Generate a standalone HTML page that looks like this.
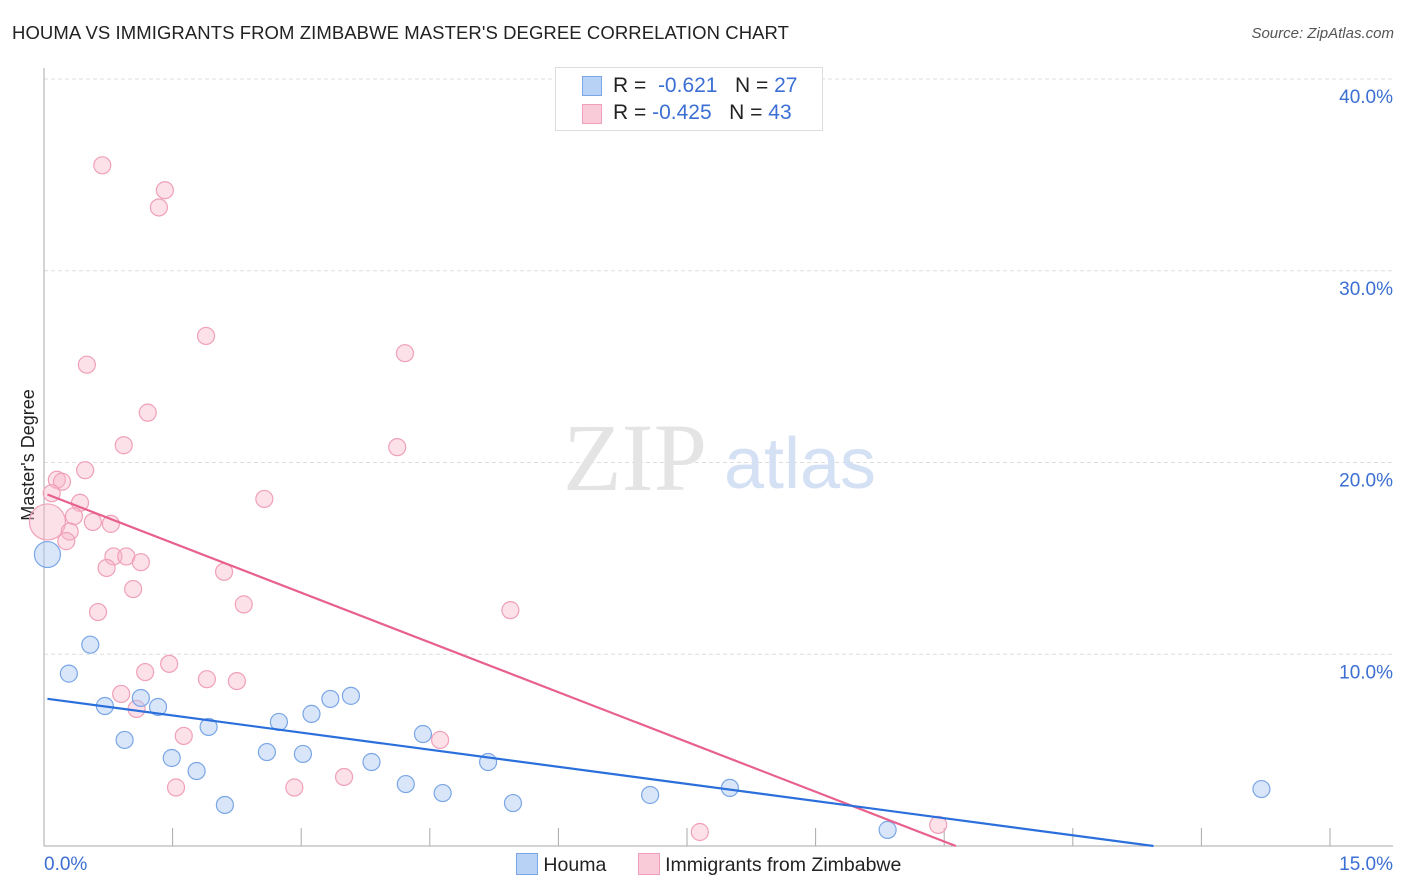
<!DOCTYPE html>
<html><head><meta charset="utf-8">
<style>
body{margin:0;background:#fff;font-family:"Liberation Sans",sans-serif;}
#wrap{position:relative;width:1406px;height:892px;overflow:hidden;}
.t{position:absolute;white-space:nowrap;}
</style></head>
<body>
<div id="wrap">
<div class="t" style="left:12px;top:22px;font-size:18.5px;color:#222;letter-spacing:0.08px">HOUMA VS IMMIGRANTS FROM ZIMBABWE MASTER'S DEGREE CORRELATION CHART</div>
<div class="t" style="right:12px;top:25px;font-size:15px;color:#555;font-style:italic">Source: ZipAtlas.com</div>
<svg id="svg" width="1406" height="892" style="position:absolute;left:0;top:0"></svg>
</div>
<script>
const blueX=[0.04,0.54,0.29,0.71,1.13,1.33,0.94,1.49,1.78,1.92,2.11,2.6,2.74,3.02,3.12,3.34,3.58,3.82,4.22,4.42,4.65,5.18,5.47,7.07,8.0,9.84,14.2];
const blueY=[15.2,10.5,8.99,7.3,7.72,7.25,5.53,4.59,3.91,6.21,2.14,4.9,6.47,4.8,6.89,7.67,7.83,4.38,3.23,5.84,2.76,4.38,2.24,2.66,3.03,0.84,2.97];
const pinkX=[0.04,0.68,1.41,1.34,1.89,0.5,4.21,1.21,0.93,4.12,0.48,0.15,0.21,0.09,0.42,2.57,0.35,0.57,0.78,0.3,0.26,0.81,0.96,1.13,0.73,2.1,1.04,2.33,0.63,5.44,1.46,1.18,1.9,2.25,0.9,1.08,1.63,4.62,3.5,1.54,2.92,7.65,10.43];
const pinkY=[16.9,35.5,34.2,33.3,26.6,25.1,25.7,22.6,20.9,20.8,19.6,19.1,19.0,18.4,17.9,18.1,17.2,16.9,16.8,16.4,15.9,15.1,15.1,14.8,14.5,14.3,13.4,12.6,12.2,12.3,9.5,9.07,8.7,8.6,7.93,7.15,5.74,5.53,3.6,3.05,3.05,0.73,1.1];
const blueR=[13];const pinkR=[18];
const trendBlue=[7.7,-0.595];const trendPink=[18.4,-1.73];
const yTicks=[10,20,30,40];const yLabels=["10.0%","20.0%","30.0%","40.0%"];
const X0=44,X1=1330,Y0=846,Y40=79;
const sx=v=>X0+(v/15)*(X1-X0);
const sy=v=>Y0-(v/40)*(Y0-Y40);
const svg=document.getElementById('svg');const NS='http://www.w3.org/2000/svg';
function mk(t,a){const e=document.createElementNS(NS,t);for(const k in a)e.setAttribute(k,a[k]);svg.appendChild(e);return e;}
yTicks.forEach((v,i)=>{
 const l=mk('line',{x1:X0,x2:1393,y1:sy(v),y2:sy(v),stroke:'#ddd','stroke-dasharray':'4,3'});
 
 
 const t=mk('text',{x:1393,y:sy(v)+24,'text-anchor':'end','font-size':19,fill:'#3b6fd4','font-family':'Liberation Sans'});
 t.textContent=yLabels[i];
 
 
});
let ax=mk('line',{x1:X0,x2:X0,y1:68,y2:Y0,stroke:'#aaa'});


let bx=mk('line',{x1:X0,x2:1393,y1:Y0,y2:Y0,stroke:'#aaa'});


for(let i=0;i<=10;i++){const tk=mk('line',{x1:sx(i*1.5),x2:sx(i*1.5),y1:Y0,y2:Y0-18,stroke:'#aaa'});
 
 }
[['0.0%',44,'start'],['15.0%',1393,'end']].forEach(a=>{const t=mk('text',{x:a[1],y:870,'text-anchor':a[2],'font-size':19,fill:'#3b6fd4','font-family':'Liberation Sans'});t.textContent=a[0];
 
 });
let yt=mk('text',{x:0,y:0,transform:'translate(34,455) rotate(-90)','text-anchor':'middle','font-size':18,fill:'#222','font-family':'Liberation Sans'});yt.textContent="Master's Degree";


let w1=mk('text',{x:635,y:490,'text-anchor':'middle','font-size':96,fill:'#e4e4e4','font-family':'Liberation Serif'});w1.textContent='ZIP';


let w2=mk('text',{x:800,y:488,'text-anchor':'middle','font-size':72,fill:'#d4e0f4','font-family':'Liberation Sans'});w2.textContent='atlas';


function pts(X,Y,big,fill,stroke,name){X.forEach((x,i)=>{const c=mk('circle',{cx:sx(x),cy:sy(Y[i]),r:i===0?big[0]:8.5,fill:fill,stroke:stroke,'stroke-width':1.2});
 
 });}
pts(pinkX,pinkY,pinkR,'rgba(248,180,200,0.4)','#f0a0b8','pink-point');
pts(blueX,blueY,blueR,'rgba(170,200,245,0.45)','#7aa6e6','blue-point');
function trend(tr,col,name){const xe=Math.min(15,-tr[0]/tr[1]);const l=mk('line',{x1:sx(0.04),y1:sy(tr[0]+tr[1]*0.04),x2:sx(xe),y2:sy(tr[0]+tr[1]*xe),stroke:col,'stroke-width':2.2});
 
 }
trend(trendPink,'#e8608c','pink-trend-line');
trend(trendBlue,'#2a6fdb','blue-trend-line');
</script>
<div class="t" style="left:555px;top:67px;width:266px;height:62px;border:1px solid #ddd;background:#fff;font-size:21px;color:#222">
 <div style="position:absolute;left:26px;top:8px;width:18px;height:18px;background:#b8d2f6;border:1px solid #7aa6e6"></div>
 <div class="t" style="left:57px;top:6px">R = &nbsp;<span style="color:#3b6fd4">-0.621</span> &nbsp;&nbsp;N = <span style="color:#3b6fd4">27</span></div>
 <div style="position:absolute;left:26px;top:36px;width:18px;height:18px;background:#f9cad8;border:1px solid #f0a0b8"></div>
 <div class="t" style="left:57px;top:33px">R = <span style="color:#3b6fd4">-0.425</span> &nbsp;&nbsp;N = <span style="color:#3b6fd4">43</span></div>
</div>
<div class="t" style="left:516px;top:853px;font-size:19.5px;color:#222">
 <span style="display:inline-block;width:20px;height:20px;background:#b8d2f6;border:1px solid #7aa6e6;vertical-align:-4px"></span> <span>Houma</span>
 <span style="display:inline-block;width:20px;height:20px;background:#f9cad8;border:1px solid #f0a0b8;vertical-align:-4px;margin-left:26px"></span> <span>Immigrants from Zimbabwe</span>
</div>
</body></html>
